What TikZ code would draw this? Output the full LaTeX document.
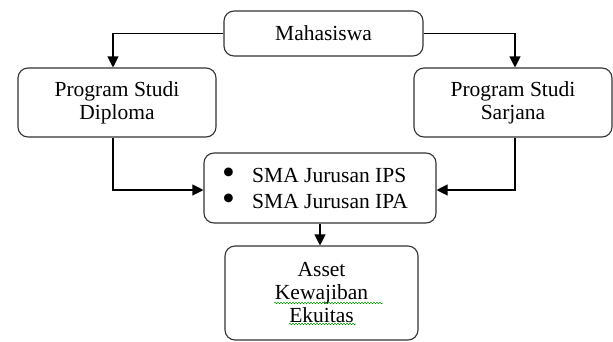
\documentclass[tikz,border=0pt]{standalone}
\usepackage{fontspec}
\setmainfont{Liberation Serif}
\usetikzlibrary{arrows.meta,decorations.pathmorphing}
\begin{document}
\begin{tikzpicture}[x=1pt,y=-1pt,
  box/.style={draw=black!80, line width=1.1pt, rounded corners=10pt, inner sep=0pt, align=center,
    font=\fontsize{21.5}{23}\selectfont},
  conn/.style={line width=1.1pt, -{Triangle[length=11pt,width=11pt]}},
  squig/.style={draw=green!55!black, line width=0.5pt, decorate,
    decoration={snake, amplitude=0.8pt, segment length=3pt}}]
\useasboundingbox (0,0) rectangle (613,341);
\node[box, minimum width=199pt, minimum height=45pt] (mah) at (323.5,33.5) {Mahasiswa};
\node[box, minimum width=198pt, minimum height=69pt] (dip) at (117,102.5) {Program Studi\\Diploma};
\node[box, minimum width=198pt, minimum height=69pt] (sar) at (513,102.5) {Program Studi\\Sarjana};
\node[box, minimum width=232pt, minimum height=70pt] (sma) at (320,188) {};
\node[inner sep=0pt, anchor=west, align=left, font=\fontsize{21.5}{26}\selectfont] (smaT) at (222,189)
  {\makebox[30pt][l]{\raisebox{-1.5pt}{\scalebox{1.7}{\textbullet}}}SMA Jurusan IPS\\\makebox[30pt][l]{\raisebox{-1.5pt}{\scalebox{1.7}{\textbullet}}}SMA Jurusan IPA};
\node[box, minimum width=193pt, minimum height=94pt] (ass) at (321.5,293) {Asset\\Kewajiban\\Ekuitas};
\draw[squig] (274,303) -- (383,303);
\draw[squig] (289,324) -- (356,324);
\draw[conn] (mah.west) -| ([xshift=-4pt]dip.north);
\draw[conn] (mah.east) -| ([xshift=2pt]sar.north);
\draw[conn] ([xshift=-4pt]dip.south) |- ([yshift=-2pt]sma.west);
\draw[conn] ([xshift=2pt]sar.south) |- ([yshift=-2pt]sma.east);
\draw[conn] (sma.south) -- (sma.south |- ass.north);
\end{tikzpicture}
\end{document}
